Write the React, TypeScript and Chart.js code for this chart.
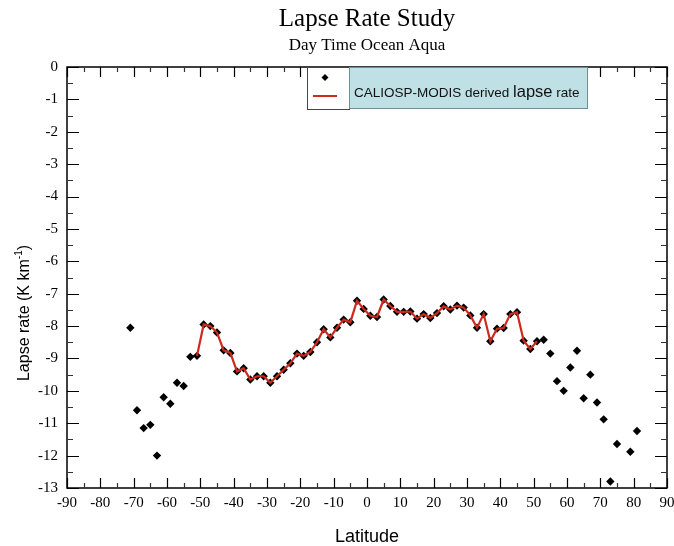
import React, { useEffect, useRef } from "react";
import { Chart, registerables } from "chart.js";

Chart.register(...registerables);

// ---- data ----
const latitudes = [
  -71, -69, -67, -65, -63, -61, -59, -57, -55, -53,
  -51, -49, -47, -45, -43, -41, -39, -37, -35, -33,
  -31, -29, -27, -25, -23, -21, -19, -17, -15, -13,
  -11, -9, -7, -5, -3, -1, 1, 3, 5, 7,
  9, 11, 13, 15, 17, 19, 21, 23, 25, 27,
  29, 31, 33, 35, 37, 39, 41, 43, 45, 47,
  49, 51, 53, 55, 57, 59, 61, 63, 65, 67,
  69, 71, 73, 75, 79, 81,
];
const lapseRates = [
  -8.05, -10.6, -11.15, -11.05, -12.0, -10.2, -10.4, -9.75, -9.85, -8.95,
  -8.92, -7.95, -8.0, -8.2, -8.75, -8.83, -9.4, -9.3, -9.65, -9.55,
  -9.55, -9.75, -9.55, -9.35, -9.15, -8.85, -8.92, -8.8, -8.5, -8.1,
  -8.35, -8.05, -7.8, -7.88, -7.22, -7.47, -7.68, -7.72, -7.18, -7.38,
  -7.56, -7.56, -7.55, -7.77, -7.63, -7.75, -7.6, -7.39, -7.49, -7.37,
  -7.43, -7.67, -8.05, -7.63, -8.47, -8.08, -8.06, -7.63, -7.57, -8.45,
  -8.71, -8.47, -8.42, -8.85, -9.7, -10.0, -9.28, -8.76, -10.23, -9.5,
  -10.36, -10.88, -12.8, -11.64, -11.88, -11.24,
];
const fitRange = [-51, 51]; // latitudes covered by the red derived curve

const xTickValues = [-90, -80, -70, -60, -50, -40, -30, -20, -10, 0, 10, 20, 30, 40, 50, 60, 70, 80, 90];
const yTickValues = [0, -1, -2, -3, -4, -5, -6, -7, -8, -9, -10, -11, -12, -13];

const titleText = "Lapse Rate Study";
const subtitleText = "Day Time Ocean Aqua";
const xAxisTitle = "Latitude";
const yAxisTitleMain = "Lapse rate (K km";
const yAxisTitleSup = "-1";
const yAxisTitleEnd = ")";
const legendParts = ["CALIOSP-MODIS derived ", "lapse", " rate"];

const W = 674;
const H = 546;

const decorPlugin = {
  id: "decor",
  afterDraw(chart: any) {
    const { ctx, chartArea } = chart;
    const xs = chart.scales.x;
    const ys = chart.scales.y;
    const { left, right, top, bottom } = chartArea;
    ctx.save();

    // frame
    ctx.strokeStyle = "#000";
    ctx.lineWidth = 1.5;
    ctx.strokeRect(left, top, right - left, bottom - top);

    // inward ticks
    ctx.lineWidth = 1.2;
    for (let v = -90; v <= 90; v += 5) {
      const major = v % 10 === 0;
      const len = major ? 10 : 5;
      const px = Math.round(xs.getPixelForValue(v)) + 0.5;
      ctx.strokeStyle = major ? "#000" : "#333";
      ctx.beginPath();
      ctx.moveTo(px, bottom);
      ctx.lineTo(px, bottom - len);
      ctx.moveTo(px, top);
      ctx.lineTo(px, top + len);
      ctx.stroke();
    }
    for (let i = 0; i <= 26; i++) {
      const v = -i * 0.5;
      const major = i % 2 === 0;
      const len = major ? 12 : 6;
      const py = Math.round(ys.getPixelForValue(v)) + 0.5;
      ctx.strokeStyle = major ? "#000" : "#333";
      ctx.beginPath();
      ctx.moveTo(left, py);
      ctx.lineTo(left + len, py);
      ctx.moveTo(right, py);
      ctx.lineTo(right - len, py);
      ctx.stroke();
    }

    const cx = (left + right) / 2;

    // titles
    ctx.fillStyle = "#000";
    ctx.textAlign = "center";
    ctx.textBaseline = "middle";
    ctx.font = "25px 'Liberation Serif', serif";
    ctx.fillText(titleText, cx, 19);
    ctx.font = "17px 'Liberation Serif', serif";
    ctx.fillText(subtitleText, cx, 46);

    // x axis title
    ctx.font = "18px 'Liberation Sans', Arial, sans-serif";
    ctx.fillText(xAxisTitle, cx, 537);

    // y axis title (rotated, with superscript)
    ctx.save();
    ctx.translate(23, 313);
    ctx.rotate(-Math.PI / 2);
    const mainFont = "16px 'Liberation Sans', Arial, sans-serif";
    const supFont = "10px 'Liberation Sans', Arial, sans-serif";
    ctx.font = mainFont;
    const w1 = ctx.measureText(yAxisTitleMain).width;
    const w3 = ctx.measureText(yAxisTitleEnd).width;
    ctx.font = supFont;
    const w2 = ctx.measureText(yAxisTitleSup).width;
    let sx = -(w1 + w2 + w3) / 2;
    ctx.textAlign = "left";
    ctx.textBaseline = "alphabetic";
    ctx.font = mainFont;
    ctx.fillText(yAxisTitleMain, sx, 6);
    sx += w1;
    ctx.font = supFont;
    ctx.fillText(yAxisTitleSup, sx, -1);
    sx += w2;
    ctx.font = mainFont;
    ctx.fillText(yAxisTitleEnd, sx, 6);
    ctx.restore();

    // legend
    const lx = 307, ly = top, lw = 42, lh = 42;
    ctx.fillStyle = "#fff";
    ctx.fillRect(lx, ly, lw, lh);
    ctx.strokeStyle = "#444";
    ctx.lineWidth = 1;
    ctx.strokeRect(lx + 0.5, ly + 0.5, lw, lh);
    // symbol
    ctx.fillStyle = "#000";
    ctx.beginPath();
    ctx.moveTo(325, 74);
    ctx.lineTo(328.5, 77.5);
    ctx.lineTo(325, 81);
    ctx.lineTo(321.5, 77.5);
    ctx.closePath();
    ctx.fill();
    ctx.strokeStyle = "#cc2a1e";
    ctx.lineWidth = 2;
    ctx.beginPath();
    ctx.moveTo(313, 96);
    ctx.lineTo(337, 96);
    ctx.stroke();
    // blue box
    const bx = 349, bw = 238, bh = 41;
    ctx.fillStyle = "#bfe1e6";
    ctx.fillRect(bx, ly, bw, bh);
    ctx.strokeStyle = "#6f8f95";
    ctx.lineWidth = 1;
    ctx.strokeRect(bx + 0.5, ly + 0.5, bw, bh);
    // text
    ctx.fillStyle = "#111";
    ctx.textAlign = "left";
    ctx.textBaseline = "alphabetic";
    const fonts = [
      "13.5px 'Liberation Sans', Arial, sans-serif",
      "16.5px 'Liberation Sans', Arial, sans-serif",
      "13.5px 'Liberation Sans', Arial, sans-serif",
    ];
    let tx = 354;
    legendParts.forEach((p, i) => {
      ctx.font = fonts[i];
      ctx.fillText(p, tx, 97);
      tx += ctx.measureText(p).width;
    });

    ctx.restore();
  },
};

export default function App() {
  const canvasRef = useRef<HTMLCanvasElement | null>(null);

  useEffect(() => {
    const canvas = canvasRef.current;
    if (!canvas) return;
    const points = latitudes.map((lat, i) => ({ x: lat, y: lapseRates[i] }));
    const fitPoints = points.filter((p) => p.x >= fitRange[0] && p.x <= fitRange[1]);

    const chart = new Chart(canvas, {
      type: "scatter",
      data: {
        datasets: [
          {
            label: "derived",
            data: fitPoints,
            showLine: true,
            borderColor: "#cc2a1e",
            borderWidth: 2.2,
            pointRadius: 0,
            fill: false,
            tension: 0,
            order: 0,
          },
          {
            label: "points",
            data: points,
            pointStyle: "rectRot",
            pointRadius: 4.2,
            pointBackgroundColor: "#000",
            pointBorderColor: "#000",
            pointBorderWidth: 0,
            showLine: false,
            order: 1,
          },
        ],
      },
      options: {
        responsive: false,
        animation: false,
        layout: { padding: { left: 0, top: 67, right: 7, bottom: 0 } },
        plugins: {
          legend: { display: false },
          title: { display: false },
          tooltip: { enabled: false },
        },
        scales: {
          x: {
            type: "linear",
            min: -90,
            max: 90,
            grid: { display: false, drawTicks: false },
            border: { display: false },
            afterFit: (s: any) => {
              s.height = H - 488;
              s.paddingLeft = 0;
              s.paddingRight = 0;
            },
            afterBuildTicks: (s: any) => {
              s.ticks = xTickValues.map((v) => ({ value: v }));
            },
            ticks: {
              color: "#000",
              padding: 6,
              maxRotation: 0,
              autoSkip: false,
              font: { family: "'Liberation Serif', serif", size: 15 },
              callback: (v: any) => String(v),
            },
          },
          y: {
            type: "linear",
            min: -13,
            max: 0,
            grid: { display: false, drawTicks: false },
            border: { display: false },
            afterFit: (s: any) => {
              s.width = 67;
              s.paddingTop = 0;
              s.paddingBottom = 0;
            },
            afterBuildTicks: (s: any) => {
              s.ticks = yTickValues.map((v) => ({ value: v }));
            },
            ticks: {
              color: "#000",
              padding: 9,
              autoSkip: false,
              font: { family: "'Liberation Serif', serif", size: 15 },
              callback: (v: any) => String(v),
            },
          },
        },
      },
      plugins: [decorPlugin],
    });
    return () => chart.destroy();
  }, []);

  return (
    <div style={{ position: "absolute", left: 0, top: 0, width: W, height: H, background: "#fff" }}>
      <canvas ref={canvasRef} width={W} height={H} style={{ display: "block", width: W, height: H }} />
    </div>
  );
}
